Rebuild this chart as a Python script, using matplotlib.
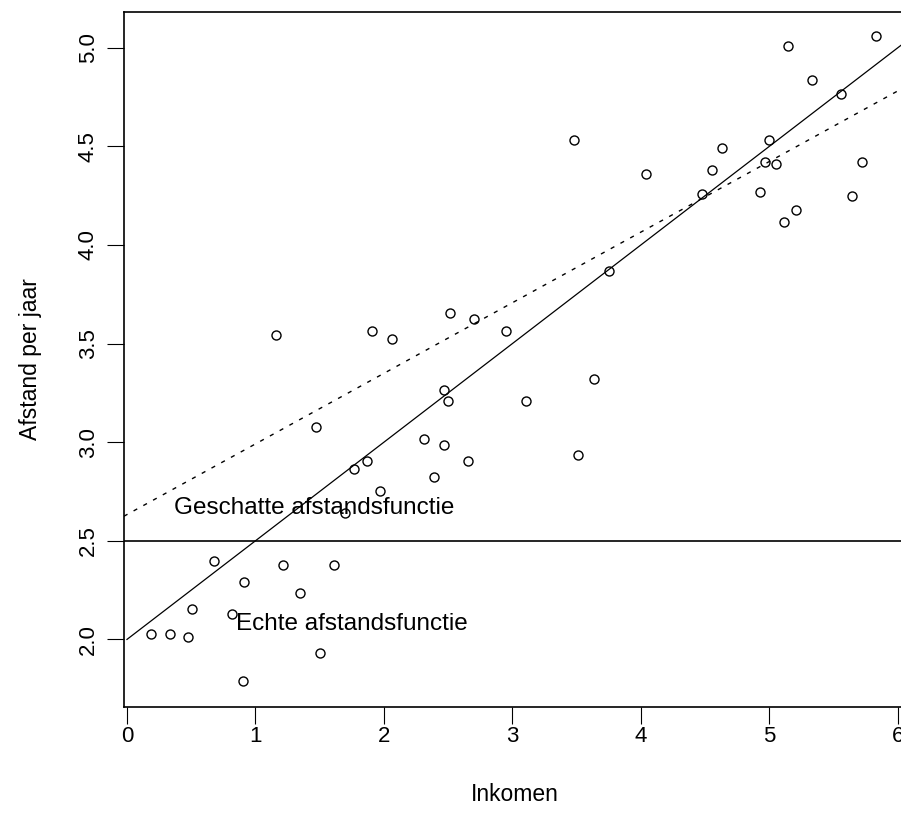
import matplotlib.pyplot as plt

plt.rcParams["font.family"] = ["Liberation Sans", "DejaVu Sans"]

# Inkomen vs afstand per jaar (50 observaties)
inkomen = [0.19, 0.335, 0.477, 0.51, 0.68, 0.815, 0.91, 0.90, 1.216, 1.346,
           1.502, 1.611, 1.697, 1.969, 1.16, 1.471, 1.769, 1.865, 1.904, 2.062,
           2.311, 2.392, 2.47, 2.47, 2.50, 2.514, 2.654, 2.703, 2.949, 3.105,
           3.479, 3.512, 3.637, 3.751, 4.04, 4.477, 4.555, 4.633, 4.926, 4.962,
           4.993, 5.053, 5.115, 5.146, 5.209, 5.333, 5.554, 5.644, 5.72, 5.829]
afstand = [2.03, 2.03, 2.014, 2.155, 2.40, 2.13, 2.29, 1.79, 2.378, 2.234,
           1.93, 2.378, 2.64, 2.753, 3.545, 3.079, 2.864, 2.905, 3.565, 3.525,
           3.018, 2.824, 2.987, 3.265, 3.21, 3.656, 2.905, 3.624, 3.565, 3.21,
           4.532, 2.935, 3.322, 3.868, 4.358, 4.258, 4.38, 4.493, 4.267, 4.42,
           4.532, 4.41, 4.115, 5.01, 4.177, 4.836, 4.763, 4.246, 4.42, 5.06]

# echte functie: 2 + 0.5 x ; geschatte functie (regressie)
echt_a, echt_b = 2.0, 0.5
schat_a, schat_b = 2.633, 0.358
grens = 2.5

xticks = [0, 1, 2, 3, 4, 5, 6]
yticks = [2.0, 2.5, 3.0, 3.5, 4.0, 4.5, 5.0]

fig = plt.figure(figsize=(9.01, 8.21), dpi=100)
ax = fig.add_axes([124 / 901, (821 - 706.7) / 821, (905.7 - 124) / 901, (706.7 - 11.7) / 821])
ax.set_xlim(-0.023, 6.06)
ax.set_ylim(1.659, 5.182)

ax.plot(inkomen, afstand, "o", ms=6.5, mfc="none", mec="black", mew=1.0)

xs = [0, 6.1]
ax.plot(xs, [echt_a + echt_b * x for x in xs], color="black", lw=0.9)
xs2 = [-0.1, 6.1]
ax.plot(xs2, [schat_a + schat_b * x for x in xs2], color="black", lw=1.0,
        dashes=(3, 5))
ax.axhline(grens, color="black", lw=1.2)

ax.text(1.454, 2.636, "Geschatte afstandsfunctie", ha="center", va="baseline", fontsize=17.5)
ax.text(1.753, 2.048, "Echte afstandsfunctie", ha="center", va="baseline", fontsize=17.5)

ax.set_xticks(xticks)
ax.set_xticklabels([str(t) for t in xticks])
ax.set_yticks(yticks)
ax.set_yticklabels(["%.1f" % t for t in yticks], rotation=90, va="center")
ax.tick_params(direction="out", length=12, width=0.8, labelsize=16)
ax.tick_params(axis="x", pad=2)
ax.tick_params(axis="y", pad=6)
for s in ax.spines.values():
    s.set_linewidth(1.2)

ax.set_xlabel("Inkomen", fontsize=16.5)
ax.set_ylabel("Afstand per jaar", fontsize=16.5)
ax.xaxis.set_label_coords(0.5, -0.11)
ax.yaxis.set_label_coords(-0.105, 0.5)

fig.savefig("out.png", dpi=100)
